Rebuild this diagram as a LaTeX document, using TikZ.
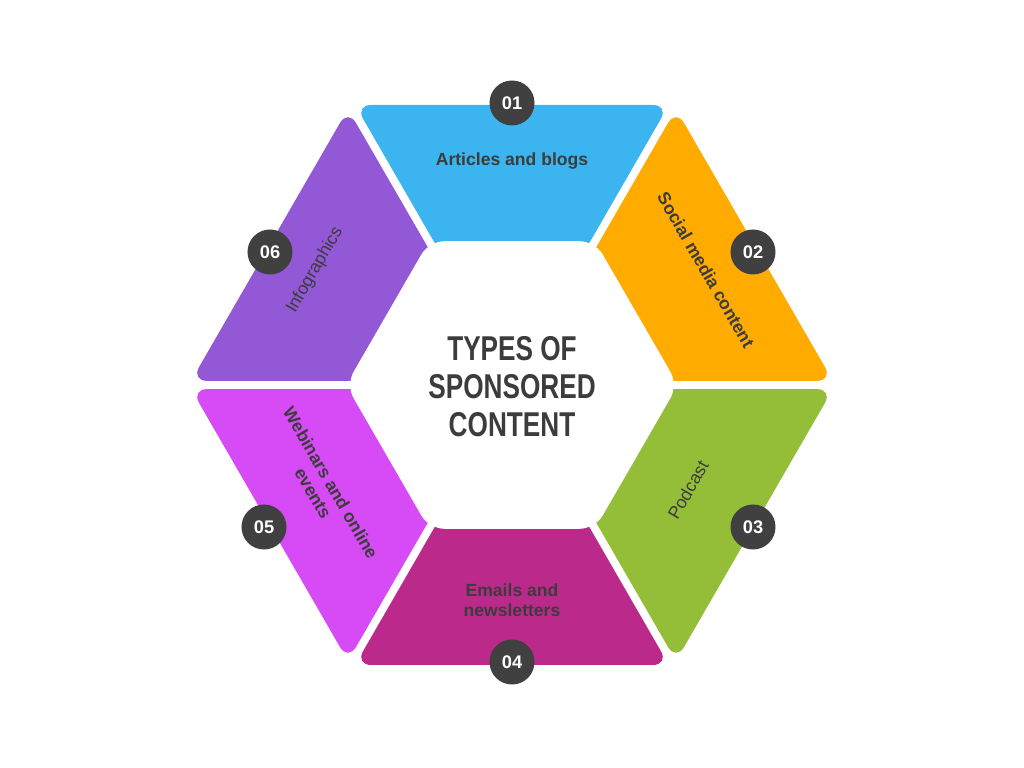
\documentclass[tikz,border=0pt]{standalone}
\usepackage{fontspec}
\setmainfont{Liberation Sans}
\usepackage{graphicx}
\definecolor{cBlue}{RGB}{59,180,240}
\definecolor{cOrange}{RGB}{255,171,0}
\definecolor{cGreen}{RGB}{148,190,56}
\definecolor{cMag}{RGB}{187,42,139}
\definecolor{cPink}{RGB}{214,75,245}
\definecolor{cPurple}{RGB}{146,88,214}
\definecolor{cBadge}{RGB}{64,64,64}
\definecolor{cText}{RGB}{60,60,60}
\tikzset{
  segshape/.style={fill=#1, rounded corners=0.4cm},
  badge/.style={circle, fill=cBadge, minimum size=1.125cm, inner sep=0pt, text=white, font=\bfseries\fontsize{13}{13}\selectfont},
  lbl/.style={text=cText, align=center, inner sep=0pt, font=\bfseries\fontsize{12.5}{14.5}\selectfont},
  lbllight/.style={text=cText, align=center, inner sep=0pt, font=\fontsize{12.5}{14.5}\selectfont},
  titlestyle/.style={text=cText, align=center, inner sep=0pt, font=\bfseries\fontsize{24.5}{27}\selectfont}
}
\begin{document}
\begin{tikzpicture}[x=0.025cm,y=0.025cm]
\useasboundingbox[fill=white] (0,0) rectangle (1024,768);
\coordinate (c) at (512,383);
% six segments
\foreach \k/\col in {0/cBlue,1/cOrange,2/cGreen,3/cMag,4/cPink,5/cPurple}{
  \fill[segshape=\col, shift={(512,383)}, rotate=-60*\k]
    (-156.9,280) -- (156.9,280) -- (46.5,88.6) -- (-46.5,88.6) -- cycle;
}
% centre hexagon
\fill[white, rounded corners=0.375cm, shift={(512,383)}]
  (0:166) -- (60:166) -- (120:166) -- (180:166) -- (240:166) -- (300:166) -- cycle;
% title
\node[titlestyle] (title) at (512,381)
  {\scalebox{0.76}[1]{TYPES OF}\\\scalebox{0.76}[1]{SPONSORED}\\\scalebox{0.76}[1]{CONTENT}};
% labels
\node[lbl] (l1) at (512,607) {Articles and blogs};
\node[lbl, rotate=-60] (l2) at (706,498) {Social media content};
\node[lbllight, rotate=60] (l3) at (688,278) {Podcast};
\node[lbl] (l4) at (512,168) {Emails and\\newsletters};
\node[lbl, rotate=-60] (l5) at (322,280) {Webinars and online\\events};
\node[lbllight, rotate=60] (l6) at (315,498) {Infographics};
% badges
\node[badge] (b1) at (512,665) {01};
\node[badge] (b2) at (753,516) {02};
\node[badge] (b3) at (753,241) {03};
\node[badge] (b4) at (512,106) {04};
\node[badge] (b5) at (264,241) {05};
\node[badge] (b6) at (270,516) {06};
\end{tikzpicture}
\end{document}
